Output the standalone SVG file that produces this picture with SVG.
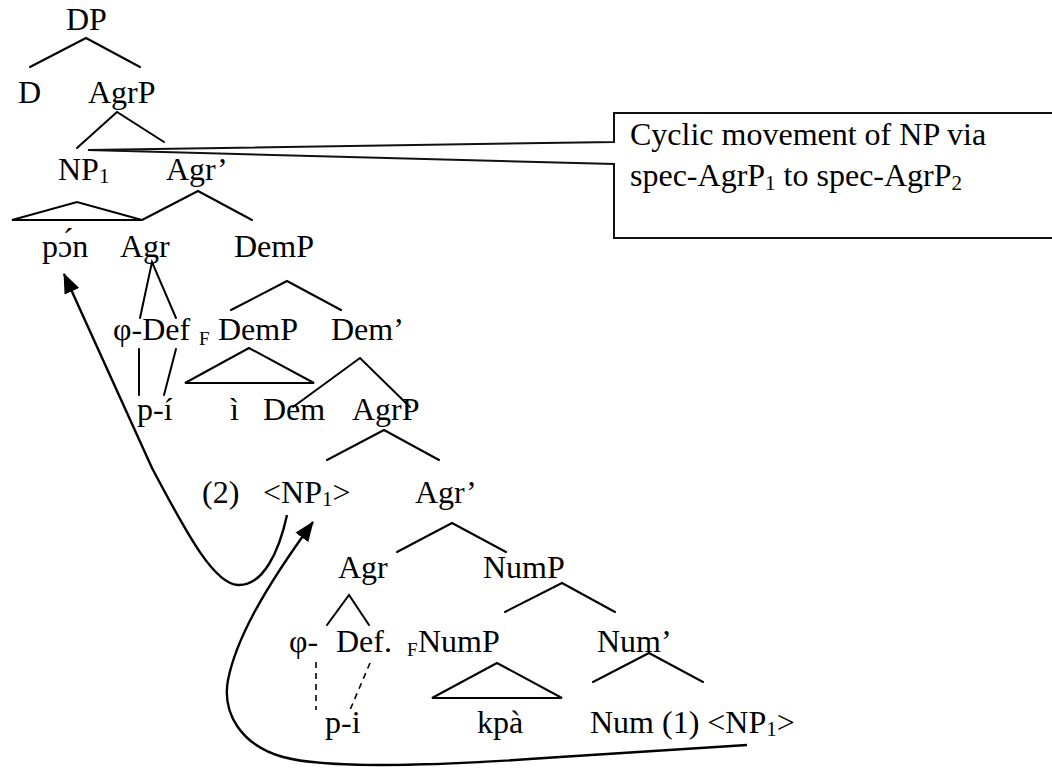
<svg xmlns="http://www.w3.org/2000/svg" width="1052" height="768" viewBox="0 0 1052 768">
  <style>
    text { font-family: "Liberation Serif", "Times New Roman", serif; font-size: 32px; fill: #000; }
    .sub { font-size: 21px; }
    .subF { font-size: 19px; }
    .edge { stroke: #000; stroke-width: 2; fill: none; stroke-linecap: round; }
    .dash { stroke: #000; stroke-width: 1.6; fill: none; stroke-dasharray: 6 5; }
    .move { stroke: #000; stroke-width: 2.4; fill: none; }
    .callout { stroke: #111; stroke-width: 2; fill: #fff; }
  </style>
  <defs>
    <marker id="head" markerUnits="userSpaceOnUse" markerWidth="20" markerHeight="16" refX="19" refY="8" orient="auto">
      <path d="M0,0 L20,8 L0,16 z" fill="#000"/>
    </marker>
  </defs>

  <rect width="1052" height="768" fill="#fff"/>

  <!-- tree branches and triangles -->
  <g id="connectors">
    <path class="edge" d="M30,67 L86,38 L140,67"/>
    <path class="edge" d="M77,148 L117,112 L164,142"/>
    <path class="edge" d="M12,220 L77,202 L142,220 Z"/>
    <path class="edge" d="M142,220 L198,191 L252,220"/>
    <path class="edge" d="M140,318 L152,262 L176,318"/>
    <path class="edge" d="M231,310 L287,281 L341,310"/>
    <path class="edge" d="M139,349 L139,395"/>
    <path class="edge" d="M176,349 L164,395"/>
    <path class="edge" d="M185,383 L249,348 L314,383 Z"/>
    <path class="edge" d="M293,407 L360,358 L410,407"/>
    <path class="edge" d="M327,460 L384,430 L439,460"/>
    <path class="edge" d="M397,552 L452,523 L506,552"/>
    <path class="edge" d="M505,612 L562,583 L615,612"/>
    <path class="edge" d="M327,625 L349,595 L369,625"/>
    <path class="dash" d="M316,662 L316,710"/>
    <path class="dash" d="M370,663 L350,710"/>
    <path class="edge" d="M432,698 L497,663 L562,698 Z"/>
    <path class="edge" d="M593,682 L649,653 L703,682"/>

    <!-- movement arrows -->
    <path class="move" marker-end="url(#head)" d="M287,515 C279,552 263,586 238,585 C215,584 190,540 152,468 L64,274"/>
    <path class="move" marker-end="url(#head)" d="M747,745 L560,757 C450,765 330,770 283,757 C240,745 222,712 228,680 C236,640 262,592 313,522"/>
  </g>

  <!-- callout -->
  <g id="callout">
    <path class="callout" d="M1060,113 L614,113 L614,142 L88,150 L614,164 L614,238 L1060,238"/>
    <text x="630" y="145">Cyclic movement of NP via</text>
    <text x="630" y="186">spec-AgrP<tspan class="sub" dy="4">1</tspan><tspan dy="-4"> to spec-AgrP</tspan><tspan class="sub" dy="4">2</tspan></text>
  </g>

  <g id="n-DP"><text x="66" y="30">DP</text></g>
  <g id="n-D"><text x="18" y="103">D</text></g>
  <g id="n-AgrP1"><text x="88" y="103">AgrP</text></g>
  <g id="n-NP1"><text x="58" y="180">NP<tspan class="sub" dy="3">1</tspan></text></g>
  <g id="n-Agrbar1"><text x="166" y="180">Agr’</text></g>
  <g id="n-pon"><text x="42" y="257">pɔ́n</text></g>
  <g id="n-Agr1"><text x="120" y="257">Agr</text></g>
  <g id="n-DemP"><text x="234" y="257">DemP</text></g>
  <g id="n-phiDef1"><text x="113" y="340">φ-Def</text><text class="subF" x="199" y="345">F</text></g>
  <g id="n-DemP-spec"><text x="218" y="340">DemP</text></g>
  <g id="n-Dembar"><text x="331" y="340">Dem’</text></g>
  <g id="n-pi1"><text x="137" y="420">p-í</text></g>
  <g id="n-i"><text x="230" y="420">ì</text></g>
  <g id="n-Dem"><text x="263" y="420">Dem</text></g>
  <g id="n-AgrP2"><text x="352" y="420">AgrP</text></g>
  <g id="n-step2"><text x="202" y="503">(2)</text></g>
  <g id="n-NP1-trace2"><text x="263" y="503">&lt;NP<tspan class="sub" dy="3">1</tspan><tspan dy="-3">&gt;</tspan></text></g>
  <g id="n-Agrbar2"><text x="415" y="503">Agr’</text></g>
  <g id="n-Agr2"><text x="338" y="578">Agr</text></g>
  <g id="n-NumP"><text x="483" y="578">NumP</text></g>
  <g id="n-phi2"><text x="289" y="652">φ-</text></g>
  <g id="n-Def2"><text x="336" y="652">Def.</text></g>
  <g id="n-NumP-spec"><text class="subF" x="407" y="656">F</text><text x="418" y="652">NumP</text></g>
  <g id="n-Numbar"><text x="597" y="652">Num’</text></g>
  <g id="n-pi2"><text x="325" y="733">p-i</text></g>
  <g id="n-kpa"><text x="477" y="733">kpà</text></g>
  <g id="n-Num"><text x="590" y="733">Num (1) &lt;NP<tspan class="sub" dy="3">1</tspan><tspan dy="-3">&gt;</tspan></text></g>
</svg>
